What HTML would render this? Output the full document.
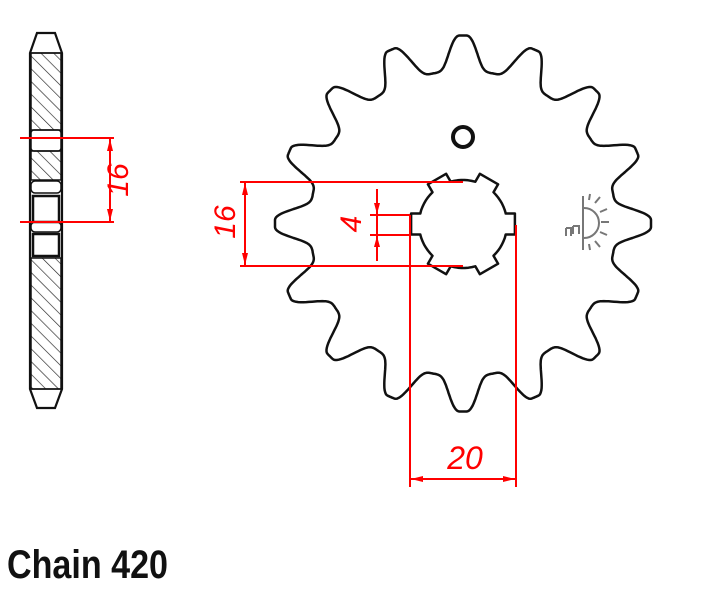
<!DOCTYPE html>
<html><head><meta charset="utf-8"><style>
html,body{margin:0;padding:0;background:#fff;}
svg{display:block;}
</style></head><body>
<svg id="s" width="715" height="592" viewBox="0 0 715 592" xmlns="http://www.w3.org/2000/svg">
<defs>
<pattern id="h" patternUnits="userSpaceOnUse" width="9" height="9" patternTransform="rotate(-45)">
<rect width="9" height="9" fill="#fff"/><line x1="0" y1="0" x2="0" y2="9" stroke="#222" stroke-width="1.3"/>
</pattern>
</defs>
<g stroke="#111" stroke-width="2.2" fill="none">
<path d="M30,53 L37,33 L55,33 L62,53 L62,389 L55,408 L37,408 L30,389 Z" fill="#fff"/>
<rect x="31" y="53" width="30" height="77" fill="url(#h)" stroke-width="1.5"/>
<rect x="31" y="151" width="30" height="29" fill="url(#h)" stroke-width="1.5"/>
<rect x="31" y="258" width="30" height="131" fill="url(#h)" stroke-width="1.5"/>
<rect x="31" y="130" width="30" height="21" rx="3" stroke-width="1.5"/>
<rect x="31" y="181" width="30" height="12" rx="4" stroke-width="1.5"/>
<rect x="33" y="196" width="26" height="26" stroke-width="2.5"/>
<rect x="31" y="222" width="30" height="10" rx="4" stroke-width="1.5"/>
<rect x="33" y="234" width="26" height="22" stroke-width="2.5"/>
<line x1="30" y1="389" x2="62" y2="389" stroke-width="1.5"/>
<line x1="30" y1="53" x2="62" y2="53" stroke-width="1.5"/>
</g>
<g stroke="#f00" stroke-width="2" fill="#f00">
<line x1="20" y1="138" x2="114" y2="138"/>
<line x1="20" y1="222" x2="114" y2="222"/>
<line x1="110" y1="138" x2="110" y2="222"/>
<path d="M110,139 l-3,12 l6,0 z M110,221 l-3,-12 l6,0 z" stroke="none"/>
</g>
<text transform="translate(128,180) rotate(-90)" text-anchor="middle" font-family="Liberation Sans, sans-serif" font-size="30" fill="#f00" font-style="italic">16</text>

<path id="sp" fill="#fff" stroke="#111" stroke-width="2.5" stroke-linejoin="round"/>
<circle cx="463" cy="137" r="10" fill="none" stroke="#111" stroke-width="4"/>
<path id="hub" fill="#fff" stroke="#111" stroke-width="2.5" stroke-linejoin="round"/>

<g stroke="#777" stroke-width="2" fill="none">
<line x1="583" y1="196" x2="583" y2="250"/>
<path d="M584,208 A15,15 0 0 1 584,238"/>
<path d="M595,203 l5,-6 M600,212 l7,-3 M601,222 l8,0 M600,232 l7,3 M595,241 l5,6 M589,200 l1,-6 M589,244 l1,6"/>
<path d="M566,228 l0,8 M566,228 l5,0 l0,8 M573,226 l0,8 M573,226 l6,0 l0,8"/>
</g>

<g stroke="#f00" stroke-width="2" fill="#f00">
<line x1="240" y1="182" x2="463" y2="182"/>
<line x1="240" y1="266" x2="463" y2="266"/>
<line x1="245" y1="182" x2="245" y2="266"/>
<path d="M245,183 l-3,12 l6,0 z M245,265 l-3,-12 l6,0 z" stroke="none"/>
<line x1="370" y1="215" x2="410" y2="215"/>
<line x1="370" y1="235" x2="410" y2="235"/>
<line x1="377" y1="189" x2="377" y2="261"/>
<path d="M377,214 l-3,-11 l6,0 z M377,236 l-3,11 l6,0 z" stroke="none"/>
<line x1="410" y1="215" x2="410" y2="487"/>
<line x1="516" y1="225" x2="516" y2="487"/>
<line x1="410" y1="479" x2="516" y2="479"/>
<path d="M411,479 l12,-3 l0,6 z M515,479 l-12,-3 l0,6 z" stroke="none"/>
</g>
<text transform="translate(235,222) rotate(-90)" text-anchor="middle" font-family="Liberation Sans, sans-serif" font-size="30" fill="#f00" font-style="italic">16</text>
<text transform="translate(361,224) rotate(-90)" text-anchor="middle" font-family="Liberation Sans, sans-serif" font-size="30" fill="#f00" font-style="italic">4</text>
<text x="465" y="469" text-anchor="middle" font-family="Liberation Sans, sans-serif" font-size="32" fill="#f00" font-style="italic">20</text>

<text x="7" y="578" font-family="Liberation Sans, sans-serif" font-size="40" font-weight="bold" fill="#111" textLength="161" lengthAdjust="spacingAndGlyphs">Chain 420</text>
</svg>
<script>
(function(){
var cx=463,cy=223.5,N=16,pts=[];
var half=Math.PI/N;
for(var j=0;j<N*60;j++){
 var a=j*2*Math.PI/(N*60);
 var ph=((a+half)%(2*half))-half;
 var u=Math.abs(ph)/half, f;
 if(u<=0.1) f=1; else { var v=(1-u)/0.9; f=Math.pow((1-Math.cos(Math.PI*v))/2,2); }
 var r=153+35*f;
 pts.push([cx+r*Math.sin(a),cy-r*Math.cos(a)]);
}
document.getElementById("sp").setAttribute("d","M"+pts.map(function(p){return p[0].toFixed(1)+","+p[1].toFixed(1);}).join(" L")+" Z");
var hx=463,hy=224,Ri=44,Ro=53,hw=10.5,h=[];
for(var k=0;k<6;k++){
 var b=k*Math.PI/3;
 var ux=Math.cos(b),uy=Math.sin(b),vx=-uy,vy=ux;
 var si=Math.asin(hw/Ri),bo=Math.sqrt(Ri*Ri-hw*hw),oo=Math.sqrt(Ro*Ro-hw*hw);
 h.push([hx+bo*ux-hw*vx,hy+bo*uy-hw*vy]);
 h.push([hx+oo*ux-hw*vx,hy+oo*uy-hw*vy]);
 h.push([hx+oo*ux+hw*vx,hy+oo*uy+hw*vy]);
 h.push([hx+bo*ux+hw*vx,hy+bo*uy+hw*vy]);
 for(var s=b+si+0.08;s<b+Math.PI/3-si;s+=0.08){h.push([hx+Ri*Math.cos(s),hy+Ri*Math.sin(s)]);}
}
document.getElementById("hub").setAttribute("d","M"+h.map(function(p){return p[0].toFixed(1)+","+p[1].toFixed(1);}).join(" L")+" Z");
})();
</script>
</body></html>
